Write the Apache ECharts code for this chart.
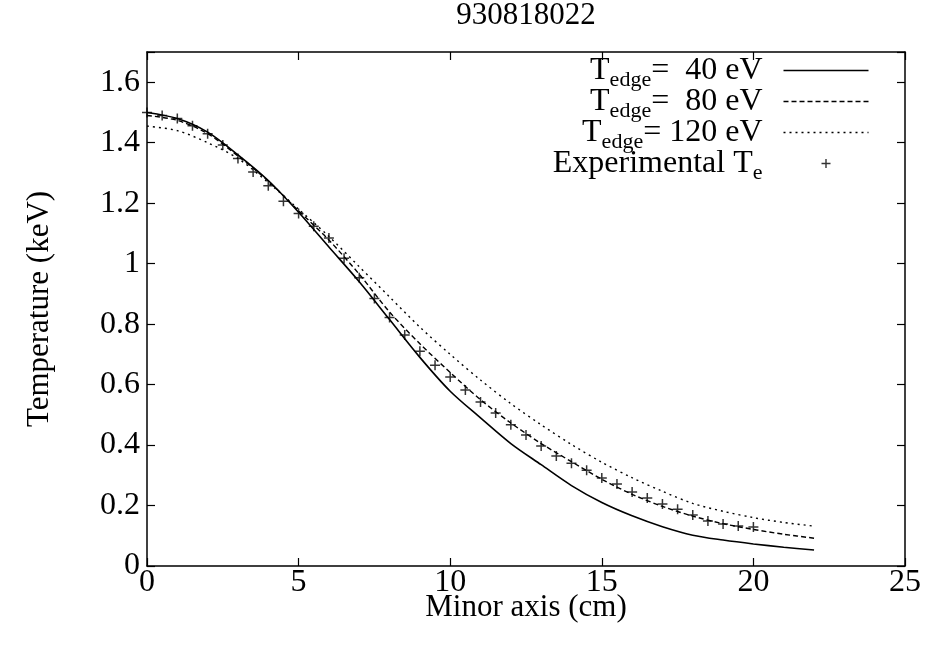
<!DOCTYPE html>
<html>
<head>
<meta charset="utf-8">
<script src="https://cdn.jsdelivr.net/npm/echarts@6/dist/echarts.min.js"></script>
<style>html,body{margin:0;padding:0;background:#fff}#c{width:926px;height:647px}</style>
</head>
<body>
<div id="c"></div>
<script>
const chartTitle = '930818022';
const xName = 'Minor axis (cm)';
const yName = 'Temperature (keV)';
const xTicks = [0, 5, 10, 15, 20, 25];
const yTicks = [0, 0.2, 0.4, 0.6, 0.8, 1, 1.2, 1.4, 1.6];
const seriesNames = ['40', '80', '120', 'exp'];
const legendLabels = ['=  40 eV', '=  80 eV', '= 120 eV', 'Experimental T'];

const xCurve = [0,1,2,3,4,5,6,7,8,9,10,11,12,13,14,15,16,17,18,19,20,21,22];
const t40  = [1.50,1.48,1.435,1.36,1.275,1.17,1.055,0.94,0.815,0.69,0.578,0.49,0.405,0.335,0.266,0.21,0.166,0.13,0.102,0.086,0.073,0.062,0.053];
const t80  = [1.49,1.474,1.43,1.356,1.273,1.175,1.078,0.965,0.84,0.735,0.64,0.55,0.473,0.405,0.345,0.287,0.237,0.197,0.165,0.14,0.121,0.105,0.092];
const t120 = [1.455,1.44,1.40,1.348,1.268,1.18,1.09,0.99,0.89,0.79,0.70,0.615,0.537,0.467,0.402,0.343,0.292,0.247,0.207,0.181,0.16,0.144,0.132];

const xExp = [0,0.5,1,1.5,2,2.5,3,3.5,4,4.5,5,5.5,6,6.5,7,7.5,8,8.5,9,9.5,10,10.5,11,11.5,12,12.5,13,13.5,14,14.5,15,15.5,16,16.5,17,17.5,18,18.5,19,19.5,20];
const tExp = [1.50,1.49,1.48,1.456,1.43,1.392,1.348,1.303,1.258,1.206,1.166,1.124,1.085,1.018,0.953,0.885,0.822,0.764,0.71,0.664,0.625,0.582,0.542,0.506,0.467,0.433,0.397,0.364,0.34,0.317,0.291,0.271,0.245,0.225,0.205,0.188,0.169,0.149,0.139,0.132,0.129];

const FONT = 'Liberation Serif';
const pair = (xs, ys) => xs.map((x, i) => [x, ys[i]]);

const chart = echarts.init(document.getElementById('c'), null, {renderer: 'canvas'});

const axisCommon = {
  axisLine: {show: true, onZero: false, lineStyle: {color: '#000', width: 1.5}},
  axisTick: {show: true, inside: true, length: 8, lineStyle: {color: '#000', width: 1.2}},
  splitLine: {show: false}
};

const legendFormatter = (name) => {
  const i = seriesNames.indexOf(name);
  if (i === 3) return '{t|Experimental T}{s|e}{sp|}';
  return '{t|T}{s|edge}{t|' + legendLabels[i] + '}{sp|}';
};

const lineIcon = 'path://M0,0 M85,14 M0,7 L85,7';
const lineIconStyle = (w, dash) => ({color: 'none', borderColor: '#000', borderWidth: w, borderType: dash});

chart.setOption({
  backgroundColor: '#fff',
  animation: false,
  title: {
    text: chartTitle, left: 526, textAlign: 'center', top: 0, padding: 0,
    textStyle: {fontFamily: FONT, fontSize: 31, fontWeight: 'normal', color: '#000'}
  },
  grid: {left: 147, right: 21, top: 52, bottom: 81, containLabel: false},
  legend: {
    orient: 'vertical', right: 55, top: 50, padding: 0, itemGap: -10,
    align: 'right', itemWidth: 85, itemHeight: 14,
    selectedMode: false,
    formatter: legendFormatter,
    textStyle: {
      width: 240, color: '#000', fontFamily: FONT, fontSize: 32,
      rich: {
        t: {fontFamily: FONT, fontSize: 32, lineHeight: 30, align: 'right', color: '#000'},
        s: {fontFamily: FONT, fontSize: 22, lineHeight: 22, align: 'right', color: '#000', padding: [19, 0, 0, 0]},
        sp: {width: 16, align: 'right'}
      }
    },
    data: [
      {name: seriesNames[0], icon: lineIcon, itemStyle: lineIconStyle(1.6, 'solid')},
      {name: seriesNames[1], icon: lineIcon, itemStyle: lineIconStyle(1.4, [5, 3])},
      {name: seriesNames[2], icon: lineIcon, itemStyle: lineIconStyle(1.4, [2, 4])},
      {name: seriesNames[3], icon: 'path://M0,0 M85,14 M42.5,2.5 L42.5,11.5 M38,7 L47,7',
       itemStyle: {color: 'none', borderColor: '#000', borderWidth: 1.4}}
    ]
  },
  xAxis: [
    Object.assign({}, axisCommon, {
      type: 'value', min: xTicks[0], max: xTicks[xTicks.length - 1], interval: 5, position: 'bottom',
      name: xName, nameLocation: 'middle', nameGap: 26, nameMoveOverlap: false,
      nameTextStyle: {fontFamily: FONT, fontSize: 31, color: '#000'},
      axisLabel: {fontFamily: FONT, fontSize: 32, color: '#000', margin: 1}
    }),
    Object.assign({}, axisCommon, {
      type: 'value', min: xTicks[0], max: xTicks[xTicks.length - 1], interval: 5, position: 'top',
      axisLabel: {show: false}
    })
  ],
  yAxis: [
    Object.assign({}, axisCommon, {
      type: 'value', min: 0, max: 1.7, interval: 0.2, position: 'left',
      name: yName, nameLocation: 'middle', nameGap: 92, nameRotate: 90, nameMoveOverlap: false,
      nameTextStyle: {fontFamily: FONT, fontSize: 31, color: '#000'},
      axisLabel: {fontFamily: FONT, fontSize: 32, color: '#000', margin: 7,
        formatter: (v) => (v > yTicks[yTicks.length - 1] + 0.01 ? '' : String(+v.toFixed(1)))}
    }),
    Object.assign({}, axisCommon, {
      type: 'value', min: 0, max: 1.7, interval: 0.2, position: 'right',
      axisLabel: {show: false}
    })
  ],
  series: [
    {name: seriesNames[0], type: 'line', data: pair(xCurve, t40), showSymbol: false, symbol: 'none',
     smooth: 0.3, lineStyle: {color: '#000', width: 1.6, type: 'solid'}, itemStyle: {color: '#000'}},
    {name: seriesNames[1], type: 'line', data: pair(xCurve, t80), showSymbol: false, symbol: 'none',
     smooth: 0.3, lineStyle: {color: '#000', width: 1.4, type: [5, 3]}, itemStyle: {color: '#000'}},
    {name: seriesNames[2], type: 'line', data: pair(xCurve, t120), showSymbol: false, symbol: 'none',
     smooth: 0.3, lineStyle: {color: '#000', width: 1.4, type: [2, 4]}, itemStyle: {color: '#000'}},
    {name: seriesNames[3], type: 'scatter', data: pair(xExp, tExp),
     symbol: 'path://M5,0 L5,10 M0,5 L10,5', symbolSize: 10,
     itemStyle: {color: 'none', borderColor: '#000', borderWidth: 1.5}}
  ]
});
</script>
</body>
</html>
